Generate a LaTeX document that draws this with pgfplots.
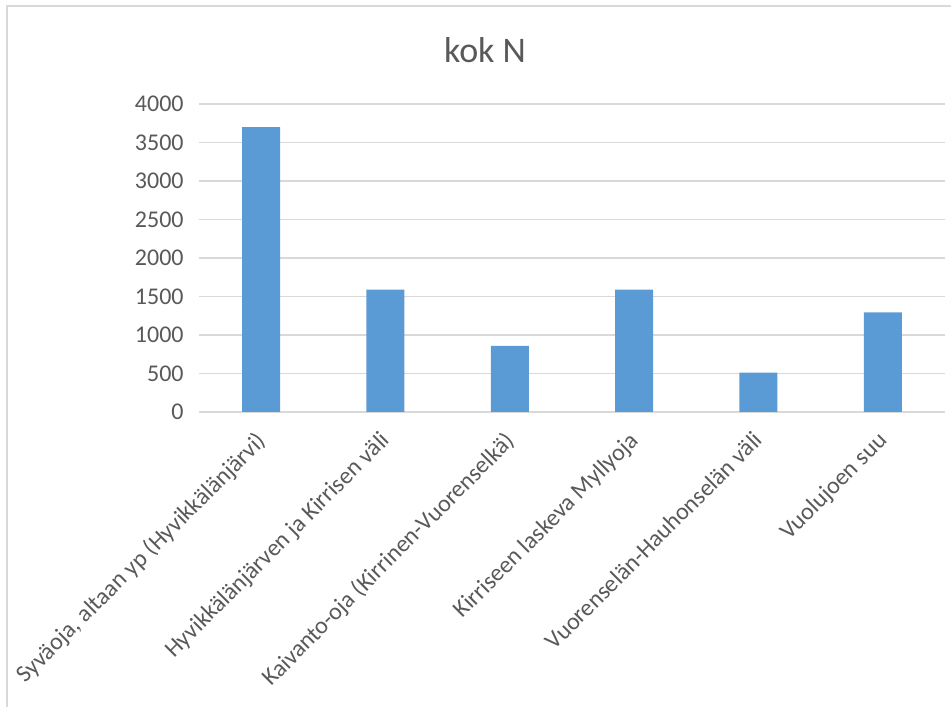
\documentclass[border=0pt]{standalone}
\usepackage{pgfplots}
\pgfplotsset{compat=1.18}
\usepackage{fontspec}
\setmainfont{Carlito}
\definecolor{barblue}{HTML}{5B9BD5}
\definecolor{txtgray}{HTML}{595959}
\definecolor{gridgray}{HTML}{D9D9D9}
\begin{document}
\begin{tikzpicture}[x=0.75pt,y=0.75pt]
\path[use as bounding box] (0,0) rectangle (951,707);
\draw[gridgray, line width=1.5pt] (6.5,0) -- (6.5,700.5) -- (951,700.5);
\node[txtgray, font=\fontsize{27}{30}\selectfont] at (485,657) {kok N};
\begin{axis}[
  at={(149.25pt,221.25pt)}, anchor=south west,
  scale only axis,
  width=559.5pt, height=231pt,
  xmin=-0.5, xmax=5.5,
  ymin=0, ymax=4000,
  ytick={0,500,...,4000},
  xtick={0,1,2,3,4,5},
  xticklabels={Syväoja{,} altaan yp (Hyvikkälänjärvi),Hyvikkälänjärven ja Kirrisen väli,Kaivanto-oja (Kirrinen-Vuorenselkä),Kirriseen laskeva Myllyoja,Vuorenselän-Hauhonselän väli,Vuolujoen suu},
  ymajorgrids,
  major grid style={gridgray, line width=0.9pt},
  axis line style={draw=none},
  axis x line*=bottom,
  x axis line style={gridgray, line width=0.9pt},
  major tick length=0pt,
  tick style={draw=none},
  /pgf/number format/assume math mode=true,
  /pgf/number format/1000 sep={},
  yticklabel style={font=\fontsize{18}{20}\selectfont, text=txtgray, anchor=east, xshift=-8pt},
  xticklabel style={font=\fontsize{18}{20}\selectfont, text=txtgray, rotate=45, anchor=north east, xshift=-11.8pt, yshift=-5pt, inner sep=1pt},
  ybar, bar width=28.5pt,
  clip=false,
]
\addplot[fill=barblue, draw=none] coordinates {(0,3700) (1,1590) (2,860) (3,1590) (4,510) (5,1295)};
\end{axis}
\end{tikzpicture}
\end{document}
